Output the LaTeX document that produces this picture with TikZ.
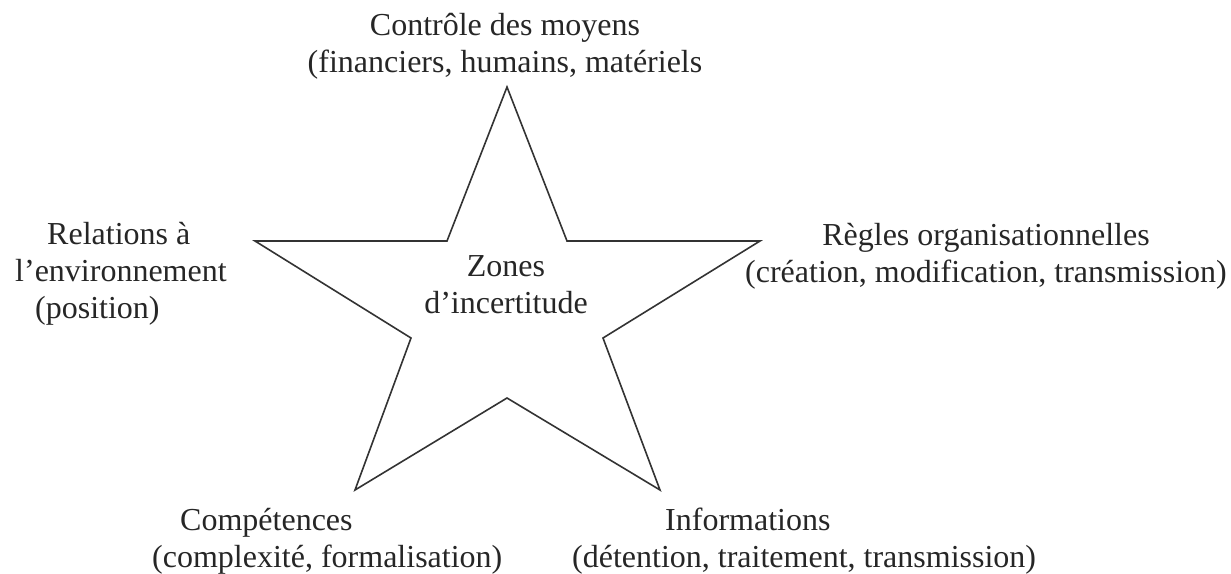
\documentclass[tikz,border=0pt]{standalone}
\usepackage{fontspec}
\setmainfont{Liberation Serif}
\begin{document}
\begin{tikzpicture}[x=1pt,y=-1pt,
  lbl/.style={inner sep=0pt,font=\fontsize{32}{37}\selectfont,text=black!85},
  starline/.style={draw=black!80,line width=1.6pt,line join=miter}]
\useasboundingbox (0,0) rectangle (1231,573);
% star vertices
\coordinate (p1) at (507,87);
\coordinate (p2) at (567,241);
\coordinate (p3) at (760,241);
\coordinate (p4) at (603,338);
\coordinate (p5) at (660,490);
\coordinate (p6) at (507,398);
\coordinate (p7) at (355,490);
\coordinate (p8) at (411,338);
\coordinate (p9) at (255,241);
\coordinate (p10) at (447,241);
\draw[starline] (p1) -- (p2) -- (p3) -- (p4) -- (p5) -- (p6) -- (p7) -- (p8) -- (p9) -- (p10) -- cycle;
% labels (base anchor = baseline of last line)
\node[lbl,align=center,anchor=base] (center) at (506,313) {Zones\\d’incertitude};
\node[lbl,align=center,anchor=base] (top) at (505,72) {Contrôle des moyens\\(financiers, humains, matériels};
\node[lbl,align=left,anchor=base west] (left) at (15,318) {\hspace*{32pt}Relations à\\l’environnement\\\hspace*{20pt}(position)};
\node[lbl,align=center,anchor=base] (right) at (986,282) {Règles organisationnelles\\(création, modification, transmission)};
\node[lbl,align=left,anchor=base west] (bl) at (152,567) {\hspace*{28pt}Compétences\\(complexité, formalisation)};
\node[lbl,align=left,anchor=base west] (br) at (572,567) {\hspace*{93pt}Informations\\(détention, traitement, transmission)};
\end{tikzpicture}
\end{document}
